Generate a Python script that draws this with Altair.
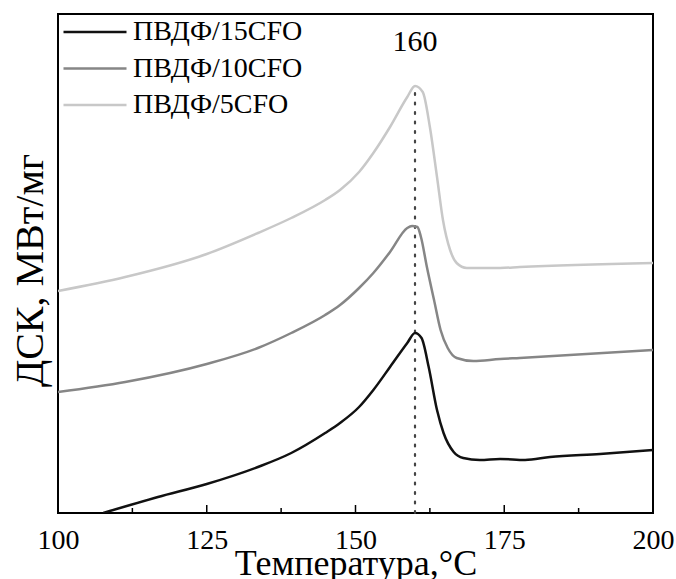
import altair as alt
import pandas as pd

# ---- data (temperature in °C, DSC signal in arbitrary units) ----
series_names = ["ПВДФ/15CFO", "ПВДФ/10CFO", "ПВДФ/5CFO"]
series_colors = ["#111111", "#868686", "#c8c8c8"]

t_15 = [107.6, 116.8, 125.0, 133.6, 139.2, 144.9, 147.4, 150.6, 153.0, 155.8, 158.7, 160.0,
        161.1, 162.3, 163.7, 164.8, 166.5, 168.1, 170.9, 174.3, 178.5, 182.7, 191.1, 200.0]
dsc_15 = [0, 16, 29, 46, 60, 80, 90, 106, 123, 146, 170, 180,
          175, 146, 103, 80, 61, 55, 53, 54, 53, 56, 59, 63]

t_10 = [100.0, 111.3, 125.0, 133.6, 139.2, 144.9, 147.4, 150.6, 153.0, 155.8, 158.7, 159.5,
        160.4, 161.0, 162.0, 163.2, 164.3, 165.5, 167.0, 169.8, 174.3, 177.6, 200.0]
dsc_10 = [121, 131, 149, 165, 180, 198, 208, 225, 240, 261, 285, 287,
          286, 276, 246, 213, 183, 165, 155, 152, 154, 155, 163]

t_5 = [100.0, 111.3, 125.0, 133.6, 139.2, 144.9, 147.4, 150.6, 153.0, 155.8, 158.7, 160.0,
       161.3, 162.5, 163.7, 164.7, 165.9, 167.0, 168.7, 174.3, 177.6, 200.0]
dsc_5 = [222, 236, 259, 280, 295, 313, 323, 341, 360, 386, 416, 427,
         421, 386, 336, 293, 263, 250, 245, 245, 246, 250]

peak_t = [160]
peak_top = [425]
peak_label = ["160"]
peak_label_y = [471]

x_ticks_major = [100, 125, 150, 175, 200]
x_ticks_minor = [112.5, 137.5, 162.5, 187.5]

rows = []
for name, ts, vs in zip(series_names, [t_15, t_10, t_5], [dsc_15, dsc_10, dsc_5]):
    for t, v in zip(ts, vs):
        rows.append({"series": name, "T": t, "DSC": v})
df = pd.DataFrame(rows)

FONT = "Liberation Serif"
x_scale = alt.Scale(domain=[100, 200], nice=False, zero=False)
y_scale = alt.Scale(domain=[0, 499], nice=False, zero=False)

x_axis = alt.Axis(values=x_ticks_major, ticks=False, domain=False, grid=False,
                  labelFont=FONT, labelFontSize=28, labelColor="black", labelPadding=13,
                  labelFlush=False,
                  title="Температура,°C", titleFont=FONT, titleFontSize=36,
                  titleFontWeight="normal", titleColor="black", titlePadding=-8)
y_axis = alt.Axis(labels=False, ticks=False, domain=False, grid=False,
                  title="ДСК, МВт/мг", titleFont=FONT, titleFontSize=40,
                  titleFontWeight="normal", titleColor="black",
                  titleX=-8, titleY=256, titleAngle=270, titleBaseline="bottom",
                  titleAlign="center")

legend = alt.Legend(orient="none", legendX=4, legendY=3, title=None,
                    symbolType="stroke", symbolSize=3969, symbolStrokeWidth=2.5,
                    labelFont=FONT, labelFontSize=28, labelColor="black", labelLimit=400,
                    clipHeight=30, rowPadding=6.5, padding=0, labelOffset=5,
                    symbolOffset=0)

lines = alt.Chart(df).mark_line(strokeWidth=2.5, clip=True, interpolate="monotone").encode(
    x=alt.X("T:Q", scale=x_scale, axis=x_axis),
    y=alt.Y("DSC:Q", scale=y_scale, axis=y_axis),
    color=alt.Color("series:N", scale=alt.Scale(domain=series_names, range=series_colors),
                    legend=legend, sort=series_names),
)

peak_df = pd.DataFrame({"T": peak_t, "top": peak_top, "label": peak_label,
                        "ly": peak_label_y, "bottom": [0]})
vline = alt.Chart(peak_df).mark_rule(color="#444444", strokeWidth=2.2,
                                     strokeDash=[2, 7.5], strokeCap="round").encode(
    x=alt.X("T:Q", scale=x_scale), y=alt.Y("bottom:Q", scale=y_scale), y2="top:Q")
vtext = alt.Chart(peak_df).mark_text(font=FONT, fontSize=30, color="black").encode(
    x=alt.X("T:Q", scale=x_scale), y=alt.Y("ly:Q", scale=y_scale), text="label:N")

major_df = pd.DataFrame({"T": x_ticks_major})
minor_df = pd.DataFrame({"T": x_ticks_minor})
major = alt.Chart(major_df).mark_rule(color="black", strokeWidth=1.5).encode(
    x=alt.X("T:Q", scale=x_scale), y=alt.value(499), y2=alt.value(491))
minor = alt.Chart(minor_df).mark_rule(color="black", strokeWidth=1.5).encode(
    x=alt.X("T:Q", scale=x_scale), y=alt.value(499), y2=alt.value(494))

chart = alt.layer(vline, lines, vtext, major, minor).properties(
    width=595, height=499,
    autosize=alt.AutoSizeParams(type="none"),
    padding={"left": 58, "top": 14, "right": 23, "bottom": 66},
    background="white",
).configure_view(stroke="black", strokeWidth=2)

chart.save("out.html", embed_options={"renderer": "svg", "actions": False})
